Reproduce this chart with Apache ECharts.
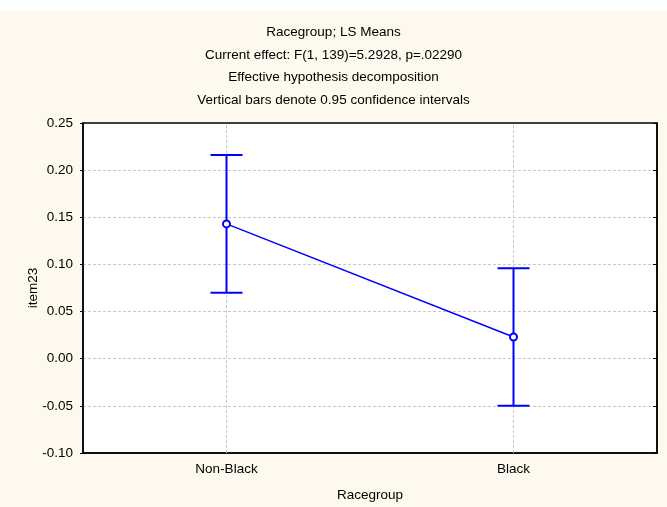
<!DOCTYPE html>
<html lang="en" style="height: 100%">
<head>
  <meta charset="utf-8">
</head>
<body style="height: 100%; margin: 0">
  <div id="container" style="height: 100%"></div>

  <script type="text/javascript" src="https://fastly.jsdelivr.net/npm/echarts@6.0.0/dist/echarts.min.js"></script>
  <script type="text/javascript">
    var dom = document.getElementById('container');
    var myChart = echarts.init(dom, null, { renderer: 'canvas' });

    // data
    var categories = ['Non-Black', 'Black'];
    var means = [0.143, 0.023];
    var lower = [0.070, -0.050];
    var upper = [0.216, 0.096];
    var yTicks = { min: -0.10, max: 0.25, step: 0.05 };
    var titleLines = [
      'Racegroup; LS Means',
      'Current effect: F(1, 139)=5.2928, p=.02290',
      'Effective hypothesis decomposition',
      'Vertical bars denote 0.95 confidence intervals'
    ];

    var font = '"Liberation Sans", Arial, sans-serif';
    var blue = '#0000ff';
    var gridGrey = '#c8c8c8';

    var errData = categories.map(function (c, i) { return [i, lower[i], upper[i]]; });

    var option = {
      backgroundColor: '#fdf9ee',
      textStyle: { fontFamily: font },
      graphic: [{
        type: 'rect', left: 0, top: 0, z: -10,
        shape: { width: 667, height: 11 },
        style: { fill: '#ffffff' }
      }],
      title: {
        text: titleLines.join('\n'),
        left: 'center',
        top: 16,
        textStyle: { fontSize: 13.5, fontWeight: 'normal', color: '#000', lineHeight: 22.7, fontFamily: font }
      },
      grid: {
        left: 83, right: 10, top: 123, bottom: 54,
        outerBoundsMode: 'none',
        show: true, backgroundColor: '#ffffff', borderColor: '#000', borderWidth: 1.5
      },
      xAxis: {
        type: 'category',
        data: categories,
        name: 'Racegroup',
        nameLocation: 'middle',
        nameGap: 35,
        nameMoveOverlap: false,
        nameTextStyle: { fontSize: 13.5, color: '#000' },
        axisLine: { onZero: false, lineStyle: { color: '#000', width: 1.5 } },
        axisTick: { alignWithLabel: true, inside: true, length: 4, lineStyle: { color: '#000' } },
        axisLabel: { fontSize: 13.5, color: '#000', margin: 9 },
        splitLine: { show: false }
      },
      yAxis: [{
        type: 'value',
        min: yTicks.min, max: yTicks.max, interval: yTicks.step,
        name: 'item23',
        nameLocation: 'middle',
        nameGap: 43,
        nameMoveOverlap: false,
        nameTextStyle: { fontSize: 13.5, color: '#000' },
        axisLine: { show: true, onZero: false, lineStyle: { color: '#000', width: 1.5 } },
        axisTick: { show: true, length: 3, lineStyle: { color: '#000' } },
        axisLabel: { fontSize: 13.5, color: '#000', margin: 10, formatter: function (v) { return v.toFixed(2); } },
        splitLine: { showMinLine: false, showMaxLine: false, lineStyle: { color: gridGrey, type: [3, 2], width: 1 } }
      }, {
        type: 'value',
        position: 'right',
        min: yTicks.min, max: yTicks.max, interval: yTicks.step,
        axisLine: { show: true, onZero: false, lineStyle: { color: '#000', width: 1.5 } },
        axisTick: { show: true, inside: true, length: 4, lineStyle: { color: '#000' } },
        axisLabel: { show: false },
        splitLine: { show: false }
      }],
      series: [{
        type: 'line',
        data: means,
        symbol: 'emptyCircle',
        symbolSize: 7,
        z: 5,
        lineStyle: { color: blue, width: 1.5 },
        itemStyle: { color: blue, borderColor: blue, borderWidth: 1.5 },
        markLine: {
          silent: true,
          symbol: 'none',
          label: { show: false },
          lineStyle: { color: gridGrey, type: [3, 2], width: 1 },
          data: categories.map(function (c) { return { xAxis: c }; }),
          z: 1
        }
      }, {
        type: 'custom',
        data: errData,
        z: 4,
        renderItem: function (params, api) {
          var x = api.value(0);
          var lo = api.coord([x, api.value(1)]);
          var hi = api.coord([x, api.value(2)]);
          var w = 16;
          var st = { stroke: blue, lineWidth: 2 };
          return {
            type: 'group',
            children: [
              { type: 'line', shape: { x1: lo[0], y1: lo[1], x2: hi[0], y2: hi[1] }, style: st },
              { type: 'line', shape: { x1: lo[0] - w, y1: lo[1], x2: lo[0] + w, y2: lo[1] }, style: st },
              { type: 'line', shape: { x1: hi[0] - w, y1: hi[1], x2: hi[0] + w, y2: hi[1] }, style: st }
            ]
          };
        }
      }]
    };

    myChart.setOption(option);
    window.addEventListener('resize', myChart.resize);
  </script>
</body>
</html>
